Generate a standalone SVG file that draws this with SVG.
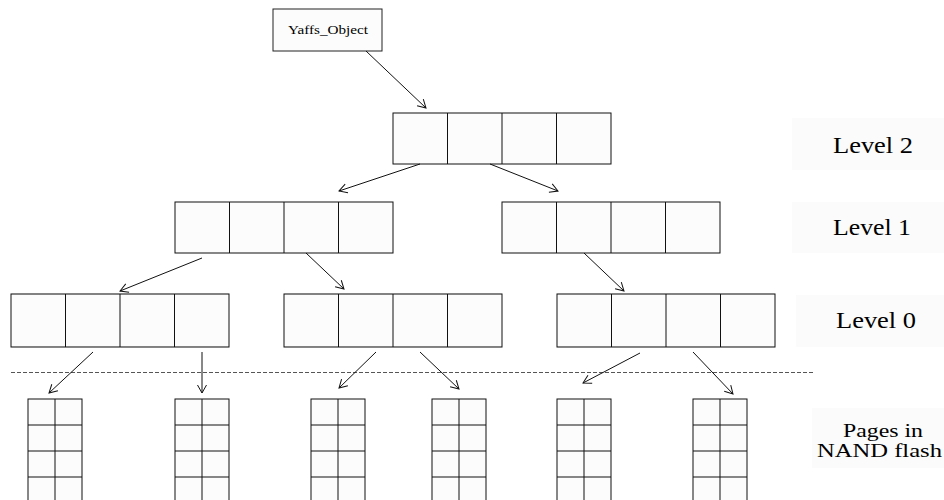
<svg xmlns="http://www.w3.org/2000/svg" width="944" height="500" viewBox="0 0 944 500">
  <style>
    .box { fill: #fcfcfc; stroke: #111; stroke-width: 1; }
    .div { stroke: #111; stroke-width: 1; }
    .edge { stroke: #111; stroke-width: 1; fill: none; marker-end: url(#arrow); }
    .lbl-bg { fill: #fbfbfb; }
    text { font-family: "Liberation Serif", "DejaVu Serif", "Times New Roman", serif; fill: #000; }
  </style>
  <defs>
    <marker id="arrow" markerUnits="userSpaceOnUse" markerWidth="12" markerHeight="12" viewBox="-10 -6 12 12" refX="0" refY="0" orient="auto">
      <path d="M-8,-4.5 L0,0 L-8,4.5" fill="none" stroke="#111" stroke-width="1"/>
    </marker>
    <!-- four-cell index node -->
    <g id="tnode">
      <rect class="box" x="0" y="0" width="218" height="51"/>
      <line class="div" x1="54.5" y1="0" x2="54.5" y2="51"/>
      <line class="div" x1="109" y1="0" x2="109" y2="51"/>
      <line class="div" x1="163.5" y1="0" x2="163.5" y2="51"/>
    </g>
    <!-- column of flash pages, 2 x 4 grid running off the bottom -->
    <g id="pages">
      <rect class="box" x="0" y="0" width="54" height="110"/>
      <line class="div" x1="27" y1="0" x2="27" y2="110"/>
      <line class="div" x1="0" y1="26" x2="54" y2="26"/>
      <line class="div" x1="0" y1="52" x2="54" y2="52"/>
      <line class="div" x1="0" y1="78" x2="54" y2="78"/>
    </g>
  </defs>

  <rect width="944" height="500" fill="#ffffff"/>

  <!-- level captions -->
  <g id="captions">
    <rect class="lbl-bg" x="792" y="118" width="152" height="52"/>
    <text x="833" y="153" font-size="23" textLength="80" lengthAdjust="spacingAndGlyphs">Level 2</text>
    <rect class="lbl-bg" x="792" y="202" width="152" height="51"/>
    <text x="833" y="235" font-size="23" textLength="78" lengthAdjust="spacingAndGlyphs">Level 1</text>
    <rect class="lbl-bg" x="796" y="295" width="148" height="52"/>
    <text x="836" y="328" font-size="23" textLength="80" lengthAdjust="spacingAndGlyphs">Level 0</text>
    <rect class="lbl-bg" x="812" y="408" width="132" height="60"/>
    <text x="843" y="437" font-size="19" textLength="80" lengthAdjust="spacingAndGlyphs">Pages in</text>
    <text x="817" y="457" font-size="19" textLength="125" lengthAdjust="spacingAndGlyphs">NAND flash</text>
  </g>

  <!-- object header -->
  <g id="yaffs-object">
    <rect x="273" y="9" width="109" height="42" fill="#fcfcfc" stroke="#222" stroke-width="1"/>
    <text x="288" y="34" font-size="13.5" textLength="80" lengthAdjust="spacingAndGlyphs">Yaffs_Object</text>
  </g>

  <!-- tnode tree -->
  <g id="level2"><use href="#tnode" x="393" y="113"/></g>
  <g id="level1-a"><use href="#tnode" x="175" y="202"/></g>
  <g id="level1-b"><use href="#tnode" x="502" y="202"/></g>
  <g id="level0-a"><use href="#tnode" transform="translate(11,294) scale(1,1.039)"/></g>
  <g id="level0-b"><use href="#tnode" transform="translate(284,294) scale(1,1.039)"/></g>
  <g id="level0-c"><use href="#tnode" transform="translate(557,294) scale(1,1.039)"/></g>

  <!-- flash pages -->
  <g id="pages-1"><use href="#pages" x="28" y="399"/></g>
  <g id="pages-2"><use href="#pages" x="175" y="399"/></g>
  <g id="pages-3"><use href="#pages" x="311" y="399"/></g>
  <g id="pages-4"><use href="#pages" x="432" y="399"/></g>
  <g id="pages-5"><use href="#pages" x="557" y="399"/></g>
  <g id="pages-6"><use href="#pages" x="693" y="399"/></g>

  <!-- boundary between tree and flash -->
  <line x1="11" y1="372.5" x2="814" y2="372.5" stroke="#555" stroke-width="1" stroke-dasharray="4,2"/>

  <g id="connectors">
    <line class="edge" x1="366" y1="51" x2="426" y2="108"/>
    <line class="edge" x1="420" y1="164" x2="339" y2="191"/>
    <line class="edge" x1="490" y1="164" x2="558" y2="191"/>
    <line class="edge" x1="202" y1="258" x2="120" y2="291"/>
    <line class="edge" x1="306" y1="253" x2="344" y2="289"/>
    <line class="edge" x1="584" y1="253" x2="624" y2="291"/>
    <line class="edge" x1="93" y1="352" x2="49" y2="393"/>
    <line class="edge" x1="202" y1="352" x2="202" y2="393"/>
    <line class="edge" x1="376" y1="352" x2="339" y2="388"/>
    <line class="edge" x1="420" y1="352" x2="459" y2="389"/>
    <line class="edge" x1="640" y1="353" x2="583" y2="383"/>
    <line class="edge" x1="693" y1="352" x2="733" y2="394"/>
  </g>
</svg>
